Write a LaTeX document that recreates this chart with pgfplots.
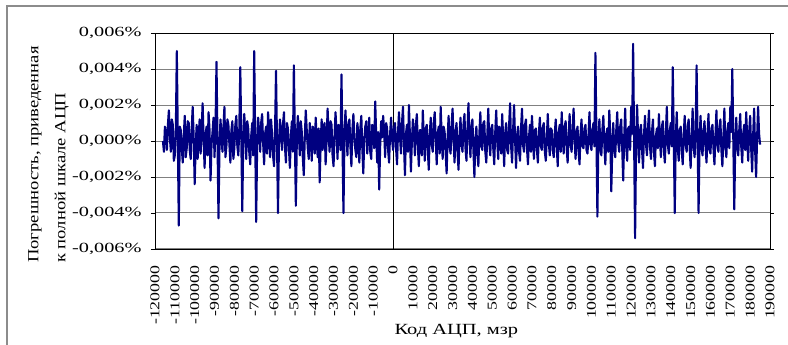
\documentclass[border=0pt]{standalone}
\usepackage{graphicx}
\usepackage{fontspec}
\setmainfont{Liberation Serif}
\usepackage{pgfplots}
\pgfplotsset{compat=1.18}
\definecolor{navyline}{RGB}{0,0,128}
\definecolor{gridgray}{RGB}{128,128,128}
\definecolor{framegray}{RGB}{140,140,140}
\newcommand{\sx}[1]{\scalebox{1.32}[1]{#1}}
\newcommand{\sy}[1]{\scalebox{1.45}[1]{#1}}
\newcommand{\slab}[1]{\scalebox{1.2}[1]{#1}}
\begin{document}
\begin{tikzpicture}
\fill[white] (0,0) rectangle (788pt,345pt);
\useasboundingbox (0,0) rectangle (788pt,345pt);
\draw[framegray, line width=1.6pt] (7pt,0pt) -- (7pt,339pt) -- (788pt,339pt);
\begin{axis}[
  at={(155pt,96pt)}, anchor=south west,
  scale only axis, width=615pt, height=216pt,
  xmin=-120, xmax=190, ymin=-60, ymax=60,
  axis line style={black, line width=0.9pt},
  xtick={-120,-110,-100,-90,-80,-70,-60,-50,-40,-30,-20,-10,0,10,20,30,40,50,60,70,80,90,100,110,120,130,140,150,160,170,180,190},
  xticklabels={\sx{-120000},\sx{-110000},\sx{-100000},\sx{-90000},\sx{-80000},\sx{-70000},\sx{-60000},\sx{-50000},\sx{-40000},\sx{-30000},\sx{-20000},\sx{-10000},\sx{0},\sx{10000},\sx{20000},\sx{30000},\sx{40000},\sx{50000},\sx{60000},\sx{70000},\sx{80000},\sx{90000},\sx{100000},\sx{110000},\sx{120000},\sx{130000},\sx{140000},\sx{150000},\sx{160000},\sx{170000},\sx{180000},\sx{190000}},
  xtick style={draw=none},
  xticklabel style={yshift=-9pt, rotate=90, anchor=east, font=\fontsize{13.5}{15}\selectfont},
  ytick={-60,-40,-20,0,20,40,60},
  yticklabels={\sy{-0,006\%},\sy{-0,004\%},\sy{-0,002\%},\sy{0,000\%},\sy{0,002\%},\sy{0,004\%},\sy{0,006\%}},
  yticklabel style={xshift=-6pt, font=\fontsize{14}{15}\selectfont},
  ytick style={black, line width=0.8pt},
  tick align=outside, major tick length=4pt,
  ymajorgrids, major grid style={gridgray, line width=1pt},
  extra x ticks={0}, extra x tick labels={},
  extra x tick style={grid=major, major grid style={black, line width=0.8pt}, tick style={draw=none}},
  xlabel={\sx{Код АЦП, мзр}},
  xlabel style={at={(axis description cs:0.49,0)}, anchor=center, yshift=-82pt, font=\fontsize{15.5}{18}\selectfont},
  ylabel={\slab{Погрешность, приведенная}\\\slab{к полной шкале АЦП}},
  ylabel style={at={(axis description cs:-0.2065,-0.0648)}, anchor=north west, inner sep=0pt, align=left, font=\fontsize{15.5}{27}\selectfont},
  clip=true,
]
\addplot[navyline, line width=2.1pt, line join=round, mark=none] coordinates {
(-116,0) (-115.5,-6) (-115,8) (-114.5,3) (-114,-5) (-113.5,9) (-113,17) (-112.5,2) (-112,-6) (-111.5,12)
(-111,9) (-110.5,-11) (-110,-8) (-109.5,6) (-109,50) (-108,-47) (-107.5,8) (-107,6) (-106.5,-4)
(-106,-12) (-105.5,3) (-105,14) (-104.5,-9) (-104,-4) (-103.5,11) (-103,10) (-102.5,-5) (-102,-10) (-101.5,7)
(-101,19) (-100.5,2) (-100,-24) (-99.5,-3) (-99,9) (-98.5,-10) (-98,2) (-97.5,12) (-97,-7) (-96.5,5)
(-96,21) (-95.5,1) (-95,-15) (-94.5,4) (-94,8) (-93.5,-8) (-93,16) (-92.5,6) (-92,-22) (-91.5,-2)
(-91,5) (-90.5,13) (-90,-9) (-89.5,7) (-89,44) (-88,-43) (-87.5,-4) (-87,12) (-86.5,3)
(-86,-6) (-85.5,8) (-85,19) (-84.5,-9) (-84,-3) (-83.5,12) (-83,9) (-82.5,-2) (-82,-12) (-81.5,6)
(-81,11) (-80.5,-10) (-80,-4) (-79.5,9) (-79,14) (-78.5,-3) (-78,-8) (-77.5,7) (-77,41)
(-76,-39) (-75.5,2) (-75,15) (-74.5,4) (-74,-10) (-73.5,11) (-73,7) (-72.5,-6) (-72,-13) (-71.5,3)
(-71,10) (-70.5,-8) (-70,50) (-69,-45) (-68.5,-2) (-68,13) (-67.5,5) (-67,-6) (-66.5,10)
(-66,15) (-65.5,-1) (-65,-13) (-64.5,4) (-64,8) (-63.5,-7) (-63,16) (-62.5,6) (-62,-9) (-61.5,12)
(-61,4) (-60.5,-8) (-60,-14) (-59.5,5) (-59,39) (-58,-40) (-57.5,0) (-57,12) (-56.5,5)
(-56,-5) (-55.5,9) (-55,16) (-54.5,-3) (-54,-12) (-53.5,10) (-53,7) (-52.5,-4) (-52,-15) (-51.5,3)
(-51,11) (-50.5,-6) (-50,42) (-49,-36) (-48.5,1) (-48,14) (-47.5,4) (-47,-8) (-46.5,11)
(-46,5) (-45.5,-9) (-45,-19) (-44.5,2) (-44,17) (-43.5,6) (-43,-4) (-42.5,-10) (-42,10) (-41.5,3)
(-41,-11) (-40.5,8) (-40,6) (-39.5,-7) (-39,13) (-38.5,1) (-38,-9) (-37.5,7) (-37,-23) (-36.5,-2)
(-36,12) (-35.5,-5) (-35,8) (-34.5,10) (-34,-13) (-33.5,0) (-33,18) (-32.5,4) (-32,-6) (-31.5,11)
(-31,9) (-30.5,-8) (-30,-14) (-29.5,3) (-29,16) (-28.5,5) (-28,-10) (-27.5,9) (-27,7) (-26.5,-5)
(-26,37) (-25,-40) (-24.5,2) (-24,17) (-23.5,5) (-23,-8) (-22.5,9) (-22,12) (-21.5,-3)
(-21,-14) (-20.5,6) (-20,15) (-19.5,2) (-19,-5) (-18.5,-9) (-18,10) (-17.5,4) (-17,-12) (-16.5,7)
(-16,14) (-15.5,-4) (-15,-18) (-14.5,1) (-14,8) (-13.5,11) (-13,-7) (-12.5,3) (-12,13) (-11.5,-6)
(-11,-10) (-10.5,9) (-10,6) (-9.5,-4) (-9,22) (-8.5,3) (-8,-12) (-7.5,5) (-7,-27) (-6.5,-3)
(-6,11) (-5.5,2) (-5,14) (-4.5,6) (-4,-9) (-3.5,10) (-3,7) (-2.5,-5) (-2,-12) (-1.5,4)
(-1,13) (-0.5,1) (0,-5) (0.5,7)
(1,10) (1.5,-4) (2,-13) (2.5,5) (3,16) (3.5,2) (4,-7) (4.5,10) (5,19) (5.5,-2)
(6,-19) (6.5,4) (7,9) (7.5,-6) (8,20) (8.5,3) (9,-17) (9.5,0) (10,12) (10.5,5)
(11,-8) (11.5,9) (12,15) (12.5,-3) (13,-14) (13.5,6) (14,6) (14.5,-8) (15,17) (15.5,2)
(16,-11) (16.5,7) (17,9) (17.5,-5) (18,-16) (18.5,4) (19,13) (19.5,-2) (20,-6) (20.5,10)
(21,16) (21.5,1) (22,-13) (22.5,4) (23,8) (23.5,-7) (24,19) (24.5,3) (25,-10) (25.5,8)
(26,5) (26.5,-6) (27,-18) (27.5,2) (28,14) (28.5,-3) (29,-7) (29.5,9) (30,18) (30.5,0)
(31,-12) (31.5,5) (32,10) (32.5,-6) (33,-16) (33.5,3) (34,13) (34.5,-2) (35,-6) (35.5,9)
(36,15) (36.5,-4) (37,-11) (37.5,6) (38,21) (38.5,2) (39,-9) (39.5,8) (40,12) (40.5,-5)
(41,-20) (41.5,1) (42,8) (42.5,-7) (43,-14) (43.5,4) (44,16) (44.5,-3) (45,-5) (45.5,10)
(46,11) (46.5,-6) (47,-12) (47.5,3) (48,18) (48.5,-1) (49,-8) (49.5,7) (50,9) (50.5,-4)
(51,-13) (51.5,5) (52,17) (52.5,0) (53,-10) (53.5,8) (54,6) (54.5,-7) (55,15) (55.5,2)
(56,-14) (56.5,4) (57,10) (57.5,-5) (58,-7) (58.5,9) (59,21) (59.5,-3) (60,-12) (60.5,6)
(61,20) (61.5,1) (62,-15) (62.5,3) (63,8) (63.5,-6) (64,-11) (64.5,7) (65,18) (65.5,-2)
(66,-6) (66.5,9) (67,12) (67.5,-4) (68,-13) (68.5,2) (69,9) (69.5,-6) (70,14) (70.5,3)
(71,-10) (71.5,6) (72,7) (72.5,-5) (73,-12) (73.5,4) (74,13) (74.5,-3) (75,-5) (75.5,8)
(76,10) (76.5,-6) (77,-11) (77.5,2) (78,15) (78.5,-1) (79,-8) (79.5,7) (80,6) (80.5,-5)
(81,-9) (81.5,4) (82,12) (82.5,-3) (83,-14) (83.5,5) (84,9) (84.5,-6) (85,16) (85.5,2)
(86,-7) (86.5,8) (87,11) (87.5,-4) (88,-12) (88.5,3) (89,15) (89.5,-2) (90,-6) (90.5,7)
(91,18) (91.5,0) (92,-10) (92.5,5) (93,8) (93.5,-6) (94,-13) (94.5,4) (95,12) (95.5,-3)
(96,-4) (96.5,7) (97,9) (97.5,-5) (98,-7) (98.5,3) (99,16) (99.5,-2) (100,-5) (100.5,6)
(101,10) (101.5,-3) (102,49) (103,-42) (103.5,1) (104,12) (104.5,-4) (105,-8) (105.5,6)
(106,14) (106.5,-2) (107,-13) (107.5,4) (108,7) (108.5,-6) (109,17) (109.5,3) (110,-28) (110.5,-4)
(111,10) (111.5,-5) (112,-9) (112.5,6) (113,16) (113.5,-1) (114,-6) (114.5,8) (115,12) (115.5,-4)
(116,-22) (116.5,2) (117,18) (117.5,-3) (118,-11) (118.5,7) (119,8) (119.5,-5) (120,19) (120.5,4)
(121,54) (122,-54) (122.5,-2) (123,20) (123.5,3) (124,-12) (124.5,6) (125,9) (125.5,-5)
(126,-15) (126.5,4) (127,14) (127.5,-2) (128,-8) (128.5,7) (129,17) (129.5,-3) (130,-10) (130.5,5)
(131,12) (131.5,-6) (132,-14) (132.5,3) (133,7) (133.5,-4) (134,15) (134.5,1) (135,-9) (135.5,8)
(136,11) (136.5,-5) (137,-12) (137.5,4) (138,19) (138.5,-2) (139,-7) (139.5,6) (140,10) (140.5,-3)
(141,41) (142,-40) (142.5,2) (143,16) (143.5,-4) (144,-11) (144.5,6) (145,8) (145.5,-5)
(146,-13) (146.5,3) (147,14) (147.5,-2) (148,-6) (148.5,8) (149,12) (149.5,-4) (150,-15) (150.5,2)
(151,18) (151.5,-3) (152,-9) (152.5,5) (153,42) (154,-40) (154.5,1) (155,14) (155.5,-4)
(156,-8) (156.5,6) (157,11) (157.5,-3) (158,-12) (158.5,4) (159,15) (159.5,-5) (160,-7) (160.5,7)
(161,9) (161.5,-4) (162,-13) (162.5,3) (163,17) (163.5,-2) (164,-6) (164.5,8) (165,12) (165.5,-5)
(166,-14) (166.5,2) (167,18) (167.5,-3) (168,-9) (168.5,6) (169,10) (169.5,-4) (170,19) (170.5,5)
(171,40) (172,-38) (172.5,0) (173,13) (173.5,-4) (174,-8) (174.5,6) (175,15) (175.5,-3)
(176,-12) (176.5,4) (177,9) (177.5,-5) (178,16) (178.5,2) (179,-11) (179.5,5) (180,14) (180.5,-4)
(181,-17) (181.5,3) (182,18) (182.5,-5) (183,-20) (183.5,2) (184,19) (184.5,4) (185,-2)
};
\end{axis}
\end{tikzpicture}
\end{document}
